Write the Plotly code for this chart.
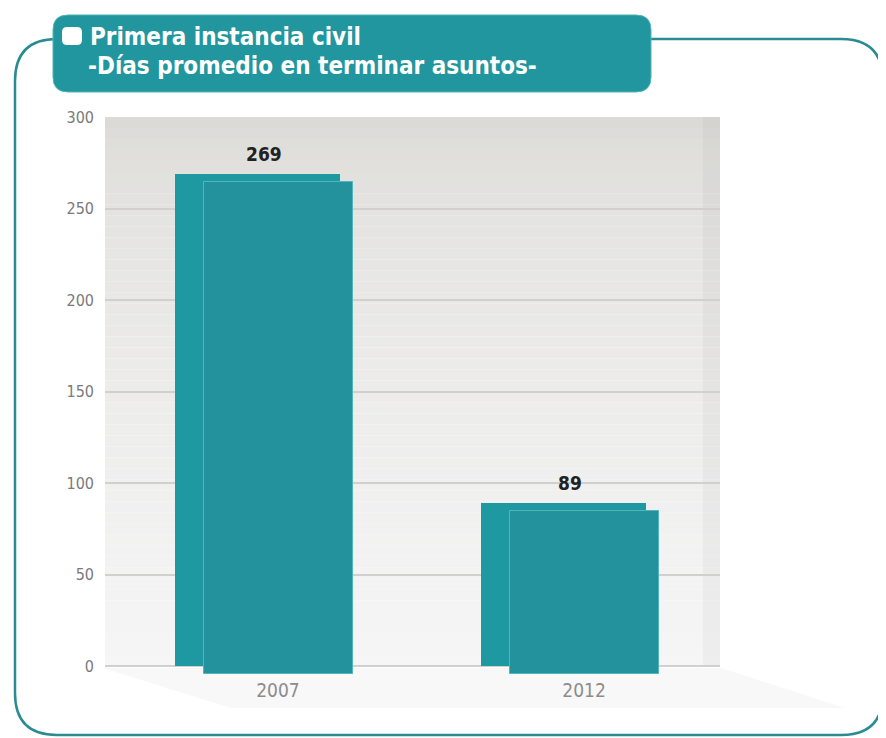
import plotly.graph_objects as go

# ---------------- data ----------------
years = ["2007", "2012"]
dias = [269, 89]
y_ticks = [0, 50, 100, 150, 200, 250, 300]
title_line1 = "Primera instancia civil"
title_line2 = "-Días promedio en terminar asuntos-"

# ---------------- geometry helpers (reference pixel -> paper) ----------------
W, H = 886, 738
BODY = 8  # default page margin of the html body
PL, PR, PT = 105, 720, 117
Y_MIN, Y_MAX = -6, 300
PX_PER_UNIT = 1.83
PB = PT + (Y_MAX - Y_MIN) * PX_PER_UNIT
PW, PH = PR - PL, PB - PT


def px(x):
    return (x - PL) / PW


def py(y):
    return (PB - y) / PH


def rrect(x0, y0, x1, y1, r):
    pts = [
        f"M {px(x0 + r)},{py(y0)}",
        f"L {px(x1 - r)},{py(y0)}",
        f"Q {px(x1)},{py(y0)} {px(x1)},{py(y0 + r)}",
        f"L {px(x1)},{py(y1 - r)}",
        f"Q {px(x1)},{py(y1)} {px(x1 - r)},{py(y1)}",
        f"L {px(x0 + r)},{py(y1)}",
        f"Q {px(x0)},{py(y1)} {px(x0)},{py(y1 - r)}",
        f"L {px(x0)},{py(y0 + r)}",
        f"Q {px(x0)},{py(y0)} {px(x0 + r)},{py(y0)}",
        "Z",
    ]
    return " ".join(pts)


FONT = "Liberation Sans Narrow, DejaVu Sans Condensed, Arial Narrow, sans-serif"

fig = go.Figure()

# side / top face of the pseudo-3D bars (behind)
fig.add_trace(go.Bar(
    x=years, y=dias, offset=-0.337, width=0.54,
    marker=dict(color="#1f99a1", line=dict(width=0)),
    hoverinfo="skip", showlegend=False,
))
# front face (shifted slightly down)
fig.add_trace(go.Bar(
    x=years, y=dias, base=-4.5, offset=-0.243, width=0.487,
    marker=dict(color="#24929c", line=dict(color="#4fb6bd", width=1)),
    showlegend=False,
))

shapes = []
# plot background gradient (back wall)
N = 50
top_c = (219, 218, 215)
bot_c = (246, 246, 246)
for i in range(N):
    t = i / (N - 1)
    tt = t ** 0.6
    c = tuple(int(top_c[k] + (bot_c[k] - top_c[k]) * tt) for k in range(3))
    y1 = Y_MAX - i * (Y_MAX / N)
    y0 = y1 - Y_MAX / N
    shapes.append(dict(type="rect", xref="x domain", yref="y", x0=0, x1=1,
                       y0=y0, y1=y1, fillcolor=f"rgb{c}", line=dict(width=0),
                       layer="below"))
# right wall strip
shapes.append(dict(type="rect", xref="x domain", yref="y", x0=0.972, x1=1,
                   y0=0, y1=Y_MAX, fillcolor="rgba(0,0,0,0.03)",
                   line=dict(width=0), layer="below"))
# floor shadow
shapes.append(dict(type="path", xref="paper", yref="paper",
                   path=f"M {px(103)},{py(668)} L {px(722)},{py(668)} L {px(845)},{py(708)} L {px(230)},{py(708)} Z",
                   fillcolor="rgba(0,0,0,0.028)", line=dict(width=0), layer="below"))
# outer frame
shapes.append(dict(type="path", xref="paper", yref="paper",
                   path=rrect(15, 39, 883, 735, 42),
                   fillcolor="rgba(0,0,0,0)", line=dict(color="#2a8c92", width=2.5),
                   layer="above"))
# title box
shapes.append(dict(type="path", xref="paper", yref="paper",
                   path=rrect(53, 15, 651, 92, 15),
                   fillcolor="#22969e", line=dict(color="#4fb3b8", width=1),
                   layer="above"))
# icon
shapes.append(dict(type="path", xref="paper", yref="paper",
                   path=rrect(62, 27, 82, 45, 5),
                   fillcolor="#ffffff", line=dict(width=0), layer="above"))

annotations = [
    dict(text=f"<b>{title_line1}</b>", xref="paper", yref="paper",
         x=px(88), y=py(37), xanchor="left", yanchor="middle", showarrow=False,
         font=dict(family=FONT, size=24, color="#ffffff")),
    dict(text=f"<b>{title_line2}</b>", xref="paper", yref="paper",
         x=px(86), y=py(66), xanchor="left", yanchor="middle", showarrow=False,
         font=dict(family=FONT, size=24, color="#ffffff")),
]
for i, v in enumerate(dias):
    annotations.append(dict(text=f"<b>{v}</b>", x=i, y=v, xref="x", yref="y",
                            xanchor="center", yanchor="bottom", showarrow=False,
                            xshift=-14, yshift=7,
                            font=dict(family=FONT, size=19, color="#222222")))

fig.update_layout(
    width=W - BODY, height=H - BODY,
    margin=dict(l=PL - BODY, r=W - PR, t=PT - BODY, b=H - PB),
    paper_bgcolor="#ffffff", plot_bgcolor="rgba(0,0,0,0)",
    barmode="overlay", bargap=0,
    shapes=shapes, annotations=annotations,
    xaxis=dict(type="category", categoryorder="array", categoryarray=years,
               range=[-0.565, 1.444], showgrid=False, showline=False,
               zeroline=False, ticks="",
               tickfont=dict(family=FONT, size=19, color="#8c8c8c")),
    yaxis=dict(range=[Y_MIN, Y_MAX], tickvals=y_ticks, showgrid=True,
               gridcolor="#d2d0ce", gridwidth=2, zeroline=False, showline=False,
               ticks="", ticklabelstandoff=10,
               tickfont=dict(family=FONT, size=16, color="#7a7a7a")),
    showlegend=False,
)

fig.write_html("out.html")
